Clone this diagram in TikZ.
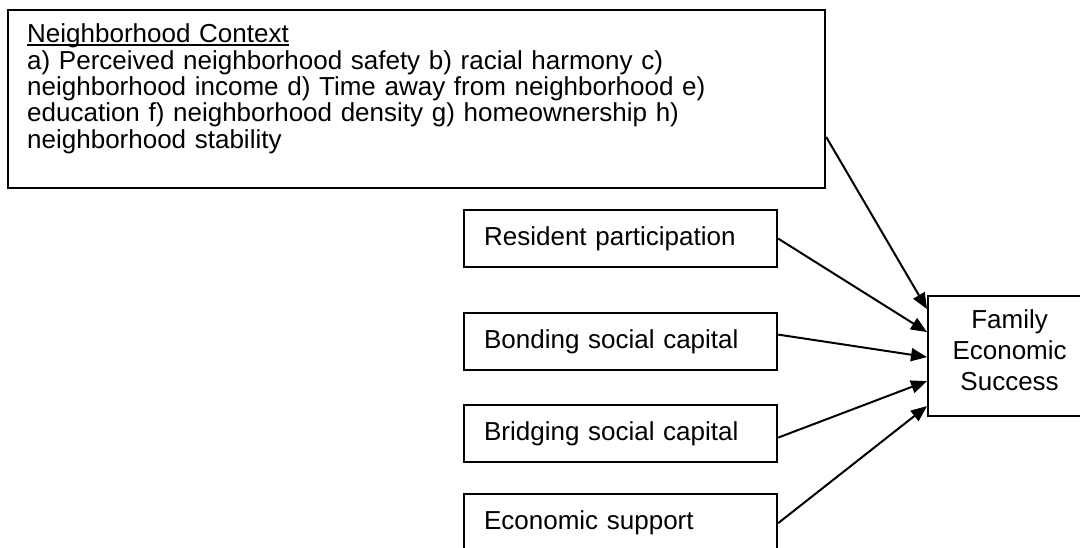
\documentclass[tikz,border=0pt]{standalone}
\usepackage{fontspec}
\setmainfont{Liberation Sans}
\usetikzlibrary{arrows.meta,calc}
\newcommand\myul[1]{\setbox0\hbox{#1}\rlap{\rule[-2.8pt]{\wd0}{1.6pt}}\box0}
\begin{document}
\begin{tikzpicture}[x=1pt,y=-1pt,
  box/.style={draw,line width=2.2pt,inner sep=0pt},
  smallbox/.style={box,anchor=north west,text width=273pt,inner xsep=20pt,inner ysep=0pt,
    minimum height=57pt,align=left,font=\fontsize{26}{26}\selectfont},
  conn/.style={line width=2pt,-{Triangle[length=16pt,width=13pt]}}]
\useasboundingbox (0,0) rectangle (1080,548);
\fill[white] (0,0) rectangle (1080,548);
\clip (0,0) rectangle (1080,548);

\node[box,anchor=north west,minimum width=817pt,minimum height=178pt] (ctx) at (7,9) {};
\node[anchor=base west,inner sep=0pt,text width=790pt,align=left,
      font=\fontsize{26}{26.3}\selectfont] (ctxtext) at (27,43)
  {\myul{Neighborhood Context}\\
   a) Perceived neighborhood safety b) racial harmony c)\\
   neighborhood income d) Time away from neighborhood e)\\
   education f) neighborhood density g) homeownership h)\\
   neighborhood stability};

\node[smallbox] (res) at (463,209) {Resident participation};
\node[smallbox] (bond) at (463,312) {Bonding social capital};
\node[smallbox] (bridge) at (463,404) {Bridging social capital};
\node[smallbox,minimum height=58pt] (econ) at (463,493) {Economic support};

\node[box,anchor=north west,minimum width=163pt,minimum height=120pt,align=center,
      text depth=12pt,font=\fontsize{26}{31}\selectfont] (fam) at (927,295)
  {Family\\Economic\\Success};

\draw[conn] ($(ctx.north east)!0.71!(ctx.south east)$) -- ($(fam.west)+(0,-47)$);
\draw[conn] (res.east) -- ($(fam.west)+(0,-24)$);
\draw[conn] ($(bond.east)+(0,-7)$) -- ($(fam.west)+(0,1)$);
\draw[conn] ($(bridge.east)+(0,4)$) -- ($(fam.west)+(0,25)$);
\draw[conn] (econ.east) -- ($(fam.west)+(0,50)$);
\end{tikzpicture}
\end{document}
